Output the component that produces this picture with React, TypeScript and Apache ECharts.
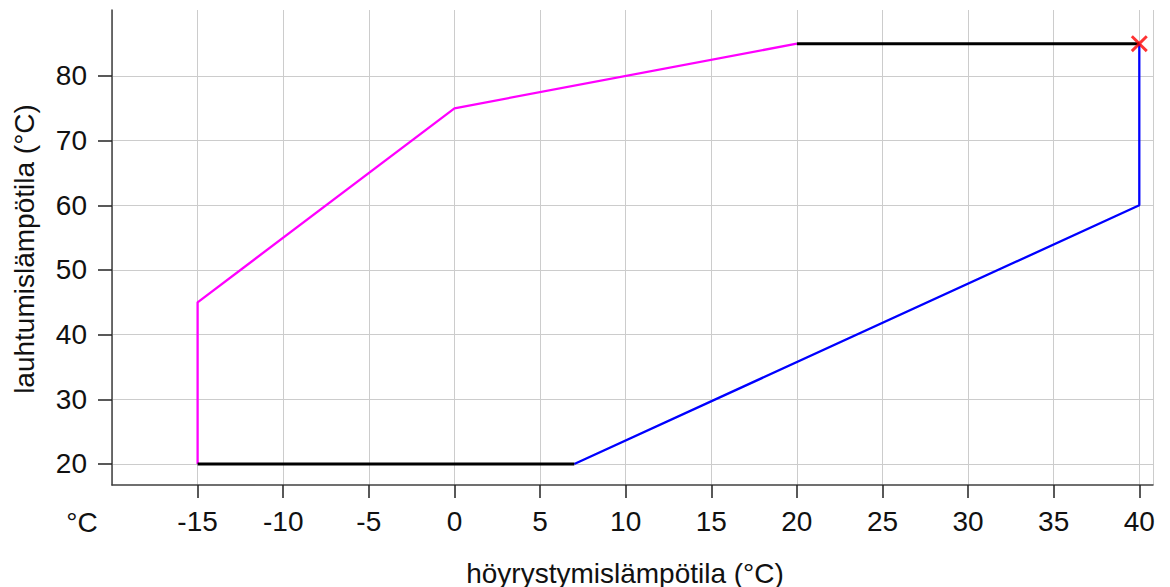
import React, { useEffect, useRef } from "react";
import * as echarts from "echarts";

const xTitle = "höyrystymislämpötila (°C)";
const yTitle = "lauhtumislämpötila (°C)";
const unitLabel = "°C";

const yTickValues = [20, 30, 40, 50, 60, 70, 80];

// segments of the operating envelope
const magentaSeg: [number, number][] = [
  [-15, 20],
  [-15, 45],
  [0, 75],
  [20, 85],
];
const blackTopSeg: [number, number][] = [
  [20, 85],
  [40, 85],
];
const blueSeg: [number, number][] = [
  [40, 85],
  [40, 60],
  [7, 20],
];
const blackBottomSeg: [number, number][] = [
  [7, 20],
  [-15, 20],
];
const markerPoint: [number, number][] = [[40, 85]];

const xMin = -20;
const xMax = 40.8;
const yMin = 16.75;
const yMax = 90.2;

const FONT = "'Liberation Sans', Arial, sans-serif";
const FS = 28;

export default function App() {
  const ref = useRef<HTMLDivElement>(null);
  useEffect(() => {
    if (!ref.current) return;
    const chart = echarts.init(ref.current, undefined, { renderer: "svg" });
    const lineSeries = (data: [number, number][], color: string, width: number) => ({
      type: "line",
      data,
      showSymbol: false,
      symbol: "none",
      lineStyle: { color, width },
      z: 3,
    });
    chart.setOption({
      animation: false,
      backgroundColor: "#ffffff",
      grid: { left: 112, top: 10, right: 17, bottom: 102, containLabel: false },
      xAxis: {
        type: "value",
        min: xMin,
        max: xMax,
        interval: 5,
        axisLine: { show: true, onZero: false, lineStyle: { color: "#404040", width: 1.5 } },
        axisTick: { show: true, length: 13, lineStyle: { color: "#222222", width: 1.5 } },
        axisLabel: {
          color: "#111111",
          fontSize: FS,
          fontFamily: FONT,
          margin: 22,
          showMinLabel: false,
          formatter: (v: number) => (v < -17 ? "" : String(v)),
        },
        splitLine: { show: true, lineStyle: { color: "#cccccc", width: 1 } },
      },
      yAxis: {
        type: "value",
        min: yMin,
        max: yMax,
        axisLine: { show: true, onZero: false, lineStyle: { color: "#404040", width: 1.5 } },
        axisTick: {
          show: true,
          length: 14,
          customValues: yTickValues,
          lineStyle: { color: "#222222", width: 1.5 },
        },
        axisLabel: {
          color: "#111111",
          fontSize: FS,
          fontFamily: FONT,
          margin: 25,
          customValues: yTickValues,
        },
        splitLine: { show: true, lineStyle: { color: "#cccccc", width: 1 } },
      },
      graphic: [
        {
          type: "text",
          x: 625,
          y: 573,
          style: {
            text: xTitle,
            fill: "#111111",
            font: `${FS}px ${FONT}`,
            align: "center",
            verticalAlign: "middle",
          },
        },
        {
          type: "text",
          x: 24,
          y: 249,
          rotation: Math.PI / 2,
          style: {
            text: yTitle,
            fill: "#111111",
            font: `${FS}px ${FONT}`,
            align: "center",
            verticalAlign: "middle",
          },
        },
        {
          type: "text",
          x: 82,
          y: 522,
          style: {
            text: unitLabel,
            fill: "#111111",
            font: `${FS}px ${FONT}`,
            align: "center",
            verticalAlign: "middle",
          },
        },
      ],
      series: [
        lineSeries(magentaSeg, "#ff00ff", 2.3),
        lineSeries(blackTopSeg, "#000000", 3),
        lineSeries(blueSeg, "#0000ff", 2.3),
        lineSeries(blackBottomSeg, "#000000", 3),
        {
          type: "scatter",
          data: markerPoint,
          symbol:
            "path://M0,1.2L1.2,0L5,3.8L8.8,0L10,1.2L6.2,5L10,8.8L8.8,10L5,6.2L1.2,10L0,8.8L3.8,5Z",
          symbolSize: 17,
          itemStyle: { color: "#ff0000" },
          z: 5,
        },
      ],
    });
    return () => chart.dispose();
  }, []);
  return (
    <div
      ref={ref}
      style={{ position: "fixed", left: 0, top: 0, width: 1170, height: 587, background: "#fff" }}
    />
  );
}
